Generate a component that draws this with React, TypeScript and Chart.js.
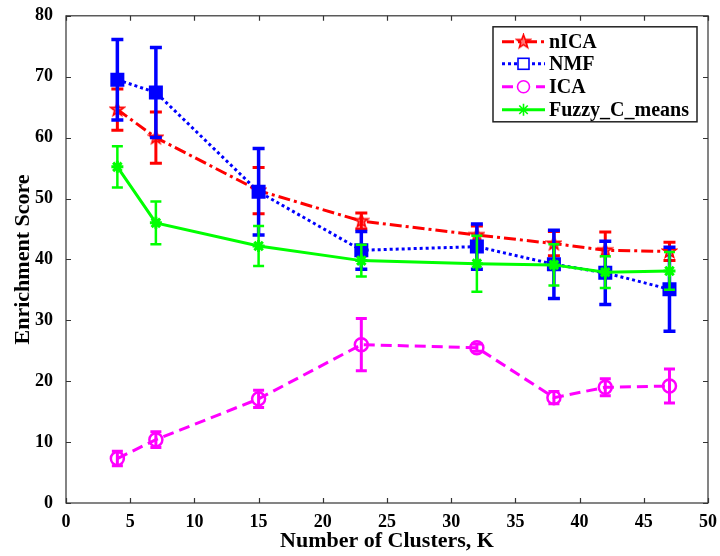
import React, { useEffect, useRef } from 'react';
import { Chart, registerables } from 'chart.js';

Chart.register(...registerables);

// ---- data ----
const clusters = [4, 7, 15, 23, 32, 38, 42, 47];
const nicaMean = [64.6, 60.0, 51.3, 46.3, 44.0, 42.6, 41.5, 41.3];
const nicaErr = [3.4, 4.2, 3.8, 1.3, 1.5, 2.0, 3.0, 1.5];
const nmfMean = [69.5, 67.4, 51.1, 41.5, 42.1, 39.2, 37.8, 35.1];
const nmfErr = [6.6, 7.4, 7.1, 3.1, 3.7, 5.6, 5.2, 6.9];
const icaMean = [7.3, 10.4, 17.1, 26.0, 25.5, 17.3, 19.0, 19.2];
const icaErr = [1.2, 1.3, 1.4, 4.3, 0.6, 1.0, 1.4, 2.8];
const fcmMean = [55.2, 46.0, 42.2, 39.8, 39.3, 39.1, 37.9, 38.1];
const fcmErr = [3.4, 3.5, 3.3, 2.6, 4.6, 3.4, 2.6, 3.1];
const seriesNames = ['nICA', 'NMF', 'ICA', 'Fuzzy_C_means'];
const xTitle = 'Number of Clusters, K';
const yTitle = 'Enrichment Score';

const FONT = "'Liberation Serif', 'Times New Roman', serif";

function makeStar(size: number, color: string) {
  const c = document.createElement('canvas');
  c.width = size;
  c.height = size;
  const g = c.getContext('2d')!;
  const cx = size / 2, cy = size / 2, R = size / 2 - 1.5, r = R * 0.42;
  g.beginPath();
  for (let i = 0; i < 10; i++) {
    const a = -Math.PI / 2 + (i * Math.PI) / 5;
    const rad = i % 2 === 0 ? R : r;
    const px = cx + rad * Math.cos(a), py = cy + rad * Math.sin(a);
    if (i === 0) g.moveTo(px, py); else g.lineTo(px, py);
  }
  g.closePath();
  g.fillStyle = 'rgba(255,0,0,0.55)';
  g.fill();
  g.strokeStyle = color;
  g.lineWidth = 1.6;
  g.stroke();
  return c;
}

const errorBarPlugin = {
  id: 'errorBars',
  beforeDatasetDraw(chart: any, args: any) {
    const ds = chart.data.datasets[args.index];
    const errs: number[] = ds.errors;
    if (!errs) return;
    const ctx = chart.ctx;
    const xs = chart.scales.x, ys = chart.scales.y;
    ctx.save();
    ctx.strokeStyle = ds.borderColor;
    ctx.lineWidth = ds.errWidth || 2.5;
    ctx.setLineDash([]);
    ctx.lineCap = 'butt';
    const hw = ds.capHalf || 6;
    ds.data.forEach((pt: any, i: number) => {
      const px = xs.getPixelForValue(pt.x);
      const top = ys.getPixelForValue(pt.y + errs[i]);
      const bot = ys.getPixelForValue(pt.y - errs[i]);
      ctx.beginPath();
      ctx.moveTo(px, top);
      ctx.lineTo(px, bot);
      ctx.moveTo(px - hw, top);
      ctx.lineTo(px + hw, top);
      ctx.moveTo(px - hw, bot);
      ctx.lineTo(px + hw, bot);
      ctx.stroke();
    });
    ctx.restore();
  },
};

const framePlugin = {
  id: 'frame',
  afterDatasetsDraw(chart: any) {
    const ctx = chart.ctx;
    const a = chart.chartArea;
    const xs = chart.scales.x, ys = chart.scales.y;
    ctx.save();
    ctx.strokeStyle = '#333';
    ctx.lineWidth = 1.2;
    ctx.setLineDash([]);
    ctx.strokeRect(a.left, a.top, a.right - a.left, a.bottom - a.top);
    const tl = 5;
    ctx.beginPath();
    xs.ticks.forEach((t: any) => {
      const px = Math.round(xs.getPixelForValue(t.value)) + 0.5;
      ctx.moveTo(px, a.bottom);
      ctx.lineTo(px, a.bottom - tl);
      ctx.moveTo(px, a.top);
      ctx.lineTo(px, a.top + tl);
    });
    ys.ticks.forEach((t: any) => {
      const py = Math.round(ys.getPixelForValue(t.value)) + 0.5;
      ctx.moveTo(a.left, py);
      ctx.lineTo(a.left + tl, py);
      ctx.moveTo(a.right, py);
      ctx.lineTo(a.right - tl, py);
    });
    ctx.stroke();
    ctx.restore();
  },
};

const legendPlugin = {
  id: 'customLegend',
  afterDraw(chart: any) {
    const ctx = chart.ctx;
    const a = chart.chartArea;
    const bx = a.right - 215, by = a.top + 11, bw = 204, bh = 95;
    ctx.save();
    ctx.fillStyle = '#fff';
    ctx.fillRect(bx, by, bw, bh);
    ctx.strokeStyle = '#222';
    ctx.lineWidth = 1.5;
    ctx.setLineDash([]);
    ctx.strokeRect(bx, by, bw, bh);
    const rows = [15, 37, 60, 83];
    chart.data.datasets.forEach((ds: any, i: number) => {
      const y = by + rows[i];
      const x0 = bx + 9, x1 = bx + 52, mx = (x0 + x1) / 2;
      ctx.strokeStyle = ds.borderColor;
      ctx.lineWidth = ds.borderWidth;
      ctx.setLineDash(ds.borderDash || []);
      ctx.beginPath();
      ctx.moveTo(x0, y);
      ctx.lineTo(x1, y);
      ctx.stroke();
      ctx.setLineDash([]);
      const ps = ds.pointStyle;
      ctx.lineWidth = 1.6;
      if (ps instanceof HTMLCanvasElement) {
        ctx.drawImage(ps, mx - ps.width / 2, y - ps.height / 2);
      } else if (ps === 'rect') {
        ctx.fillStyle = '#fff';
        ctx.fillRect(mx - 5.5, y - 5.5, 11, 11);
        ctx.strokeRect(mx - 5.5, y - 5.5, 11, 11);
      } else if (ps === 'circle') {
        ctx.fillStyle = '#fff';
        ctx.beginPath();
        ctx.arc(mx, y, 6, 0, Math.PI * 2);
        ctx.fill();
        ctx.stroke();
      } else if (ps === 'star') {
        ctx.beginPath();
        for (let k = 0; k < 4; k++) {
          const ang = (k * Math.PI) / 4;
          ctx.moveTo(mx - 6 * Math.cos(ang), y - 6 * Math.sin(ang));
          ctx.lineTo(mx + 6 * Math.cos(ang), y + 6 * Math.sin(ang));
        }
        ctx.stroke();
      }
      ctx.fillStyle = '#000';
      ctx.font = `bold 20px ${FONT}`;
      ctx.textBaseline = 'middle';
      ctx.textAlign = 'left';
      ctx.fillText(ds.label, bx + 56, y + 1);
    });
    ctx.restore();
  },
};

export default function App() {
  const ref = useRef<HTMLCanvasElement | null>(null);
  useEffect(() => {
    if (!ref.current) return;
    const star = makeStar(17, '#ff0000');
    const pts = (m: number[]) => clusters.map((x, i) => ({ x, y: m[i] }));
    const chart = new Chart(ref.current, {
      type: 'line',
      data: {
        datasets: [
          {
            label: seriesNames[0],
            data: pts(nicaMean),
            errors: nicaErr,
            errWidth: 3,
            capHalf: 6,
            borderColor: '#ff0000',
            backgroundColor: '#ff0000',
            borderWidth: 3,
            borderDash: [12, 4, 3, 4],
            pointStyle: star,
            pointRadius: 8,
            order: 4,
          },
          {
            label: seriesNames[1],
            data: pts(nmfMean),
            errors: nmfErr,
            errWidth: 3.5,
            capHalf: 6,
            borderColor: '#0000ff',
            backgroundColor: '#0000ff',
            borderWidth: 3,
            borderDash: [3, 3],
            pointStyle: 'rect',
            pointRadius: 8.5,
            pointBorderWidth: 2,
            order: 3,
          },
          {
            label: seriesNames[2],
            data: pts(icaMean),
            errors: icaErr,
            errWidth: 3,
            capHalf: 5.5,
            borderColor: '#ff00ff',
            backgroundColor: 'rgba(255,255,255,0)',
            borderWidth: 3,
            borderDash: [11, 6],
            pointStyle: 'circle',
            pointRadius: 6.5,
            pointBorderWidth: 2.5,
            order: 2,
          },
          {
            label: seriesNames[3],
            data: pts(fcmMean),
            errors: fcmErr,
            errWidth: 2.5,
            capHalf: 5.5,
            borderColor: '#00ff00',
            backgroundColor: '#00ff00',
            borderWidth: 3,
            pointStyle: 'star',
            pointRadius: 6,
            pointBorderWidth: 3,
            order: 1,
          },
        ] as any,
      },
      options: {
        animation: false,
        responsive: false,
        devicePixelRatio: 1,
        layout: { padding: { top: 12, right: 12, left: 0, bottom: 0 } },
        plugins: { legend: { display: false }, tooltip: { enabled: false } },
        elements: { line: { tension: 0 } },
        scales: {
          x: {
            type: 'linear',
            min: 0,
            max: 50,
            ticks: { stepSize: 5, color: '#000', font: { family: FONT, size: 18, weight: 'bold' }, padding: 1, maxRotation: 0 },
            grid: { display: false },
            border: { display: false },
            title: { display: true, text: xTitle, color: '#000', font: { family: FONT, size: 22, weight: 'bold' }, padding: { top: 0, bottom: 1 } },
            afterFit: (s: any) => { s.height = 53; },
          },
          y: {
            type: 'linear',
            min: 0,
            max: 80,
            ticks: { stepSize: 10, color: '#000', font: { family: FONT, size: 18, weight: 'bold' }, padding: 5 },
            grid: { display: false },
            border: { display: false },
            title: { display: true, text: yTitle, color: '#000', font: { family: FONT, size: 22, weight: 'bold' }, padding: { top: 10, bottom: 0 } },
            afterFit: (s: any) => { s.width = 66; },
          },
        },
      } as any,
      plugins: [errorBarPlugin, framePlugin, legendPlugin],
    });
    return () => chart.destroy();
  }, []);
  return (
    <div style={{ position: 'absolute', left: 0, top: 0, width: 720, height: 556, background: '#fff' }}>
      <canvas ref={ref} width={720} height={556} style={{ width: 720, height: 556, display: 'block' }} />
    </div>
  );
}
